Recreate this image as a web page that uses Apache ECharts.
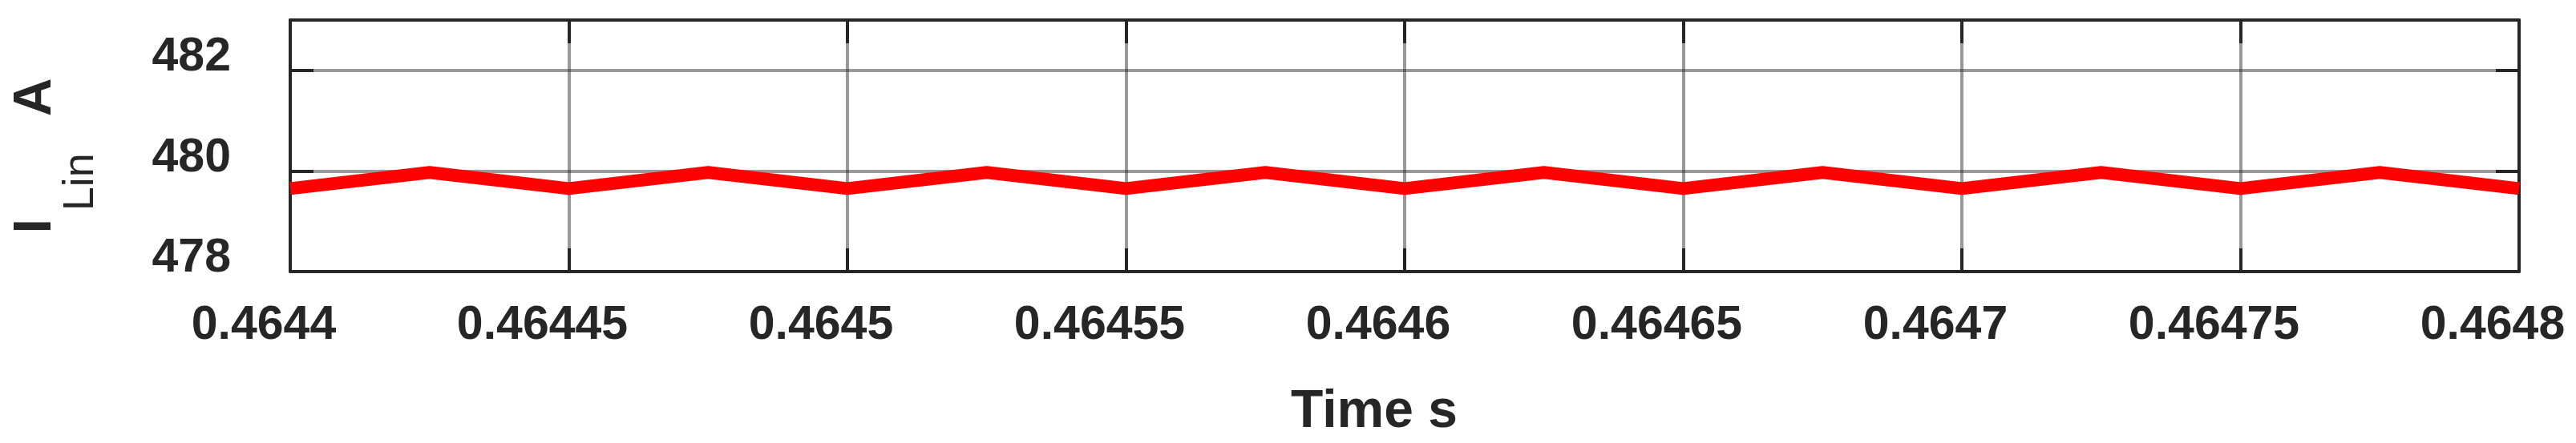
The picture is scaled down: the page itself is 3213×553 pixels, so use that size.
<!DOCTYPE html>
<html>
<head>
<meta charset="utf-8">
<script src="https://cdn.jsdelivr.net/npm/echarts@6/dist/echarts.min.js"></script>
<style>
  html, body { margin: 0; padding: 0; background: #fff; }
  #chart { width: 3213px; height: 553px; }
</style>
</head>
<body>
<div id="chart"></div>
<script>
// time (s) and inductor input current (A)
const timeData = [
  0.4644, 0.464425, 0.46445, 0.464475, 0.4645, 0.464525, 0.46455, 0.464575, 0.4646,
  0.464625, 0.46465, 0.464675, 0.4647, 0.464725, 0.46475, 0.464775, 0.4648
];
const currentData = [
  479.65, 479.97, 479.65, 479.97, 479.65, 479.97, 479.65, 479.97, 479.65,
  479.97, 479.65, 479.97, 479.65, 479.97, 479.65, 479.97, 479.65
];

// axis ranges
const xMin = 0.4644;
const xMax = 0.4648;
const xStep = 0.00005;
const yMin = 478;
const yMax = 483;
const yStep = 2;

const font = "Liberation Sans";
const ink = "#262626";

const chart = echarts.init(document.getElementById("chart"));

const tick = {
  show: true,
  inside: true,
  length: 29,
  lineStyle: { color: ink, width: 4 },
};
const frameLine = {
  show: true,
  lineStyle: { color: ink, width: 4 },
};
const grid = {
  show: true,
  lineStyle: { color: "rgba(38,38,38,0.47)", width: 4 },
};

const option = {
  animation: false,
  backgroundColor: "#fff",
  grid: {
    left: 362,
    right: 71,
    top: 25,
    bottom: 212,
  },
  xAxis: [
    {
      type: "value",
      min: xMin,
      max: xMax,
      interval: xStep,
      name: "Time s",
      nameLocation: "middle",
      nameGap: 143,
      nameTextStyle: {
        fontFamily: font,
        fontWeight: "bold",
        fontSize: 66,
        color: ink,
        padding: [0, 76, 0, 0],
      },
      axisLine: frameLine,
      axisTick: tick,
      splitLine: grid,
      axisLabel: {
        margin: 38,
        fontFamily: font,
        fontWeight: "bold",
        fontSize: 59,
        color: ink,
        padding: [0, 66, 0, 0],
        showMinLabel: true,
        showMaxLabel: true,
        formatter: (v) => String(+v.toFixed(5)),
      },
    },
    {
      type: "value",
      position: "top",
      min: xMin,
      max: xMax,
      interval: xStep,
      axisLine: frameLine,
      axisTick: tick,
      axisLabel: { show: false },
      splitLine: { show: false },
    },
  ],
  yAxis: [
    {
      type: "value",
      min: yMin,
      max: yMax,
      interval: yStep,
      name: "{m|I}{s|Lin}{a|A}",
      nameLocation: "middle",
      nameGap: 234,
      nameTextStyle: {
        rich: {
          m: { fontFamily: font, fontWeight: "bold", fontSize: 66, color: ink },
          s: {
            fontFamily: font,
            fontWeight: "normal",
            fontSize: 54,
            color: ink,
            padding: [112, 10, 0, 10],
          },
          a: {
            fontFamily: font,
            fontWeight: "bold",
            fontSize: 66,
            color: ink,
            padding: [0, 25, 0, 36],
          },
        },
      },
      axisLine: frameLine,
      axisTick: tick,
      splitLine: grid,
      axisLabel: {
        margin: 74,
        color: ink,
        showMaxLabel: false,
        formatter: (v) => "{v|" + v + "}",
        rich: {
          v: {
            fontFamily: font,
            fontWeight: "bold",
            fontSize: 59,
            color: ink,
            padding: [0, 0, 32, 0],
          },
        },
      },
    },
    {
      type: "value",
      position: "right",
      min: yMin,
      max: yMax,
      interval: yStep,
      axisLine: frameLine,
      axisTick: tick,
      axisLabel: { show: false },
      splitLine: { show: false },
    },
  ],
  series: [
    {
      type: "line",
      xAxisIndex: 0,
      yAxisIndex: 0,
      data: timeData.map((t, i) => [t, currentData[i]]),
      showSymbol: false,
      clip: true,
      lineStyle: {
        color: "#ff0000",
        width: 16,
        join: "round",
      },
      z: 3,
    },
  ],
};

chart.setOption(option);
</script>
</body>
</html>
